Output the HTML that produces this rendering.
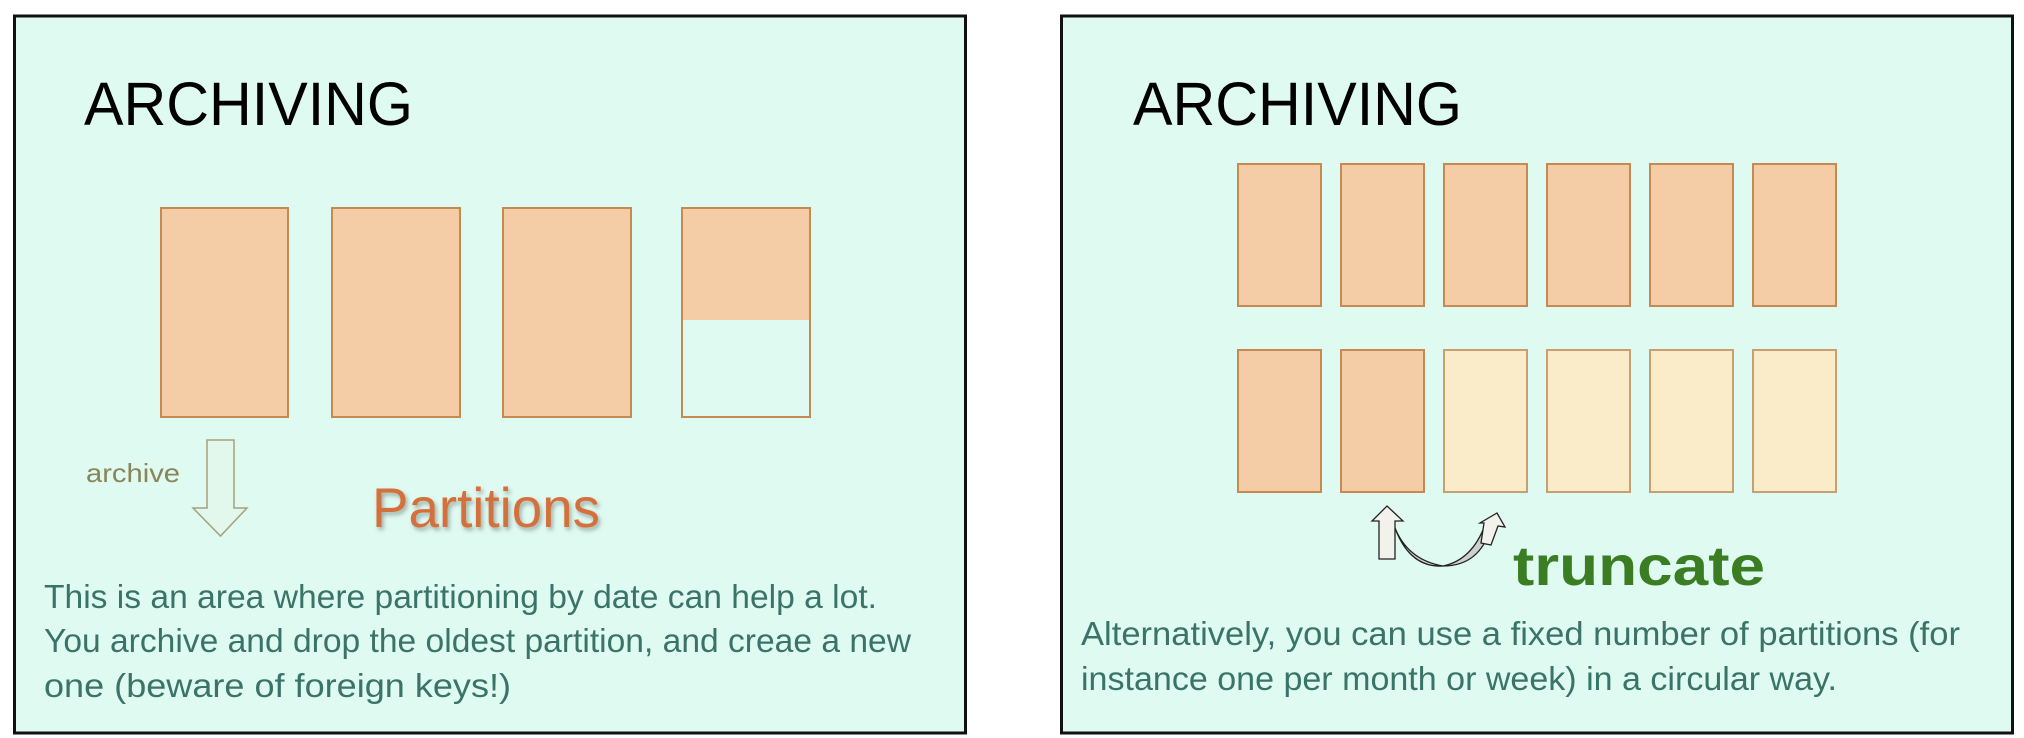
<!DOCTYPE html>
<html><head><meta charset="utf-8"><style>
html,body{margin:0;padding:0;background:#fff;}
svg{display:block;}
text{font-family:"Liberation Sans",sans-serif;}
</style></head><body>
<svg width="2024" height="738" viewBox="0 0 2024 738" xmlns="http://www.w3.org/2000/svg">
<defs>
<filter id="sh" x="-10%" y="-10%" width="130%" height="140%"><feDropShadow dx="2" dy="3" stdDeviation="2" flood-color="#000" flood-opacity="0.3"/></filter>
</defs>
<rect width="2024" height="738" fill="#fff"/>
<!-- left panel -->
<rect x="14.5" y="16" width="951" height="717" fill="#dffaf1" stroke="#111" stroke-width="3"/>
<text x="84" y="125" font-size="61" fill="#000" textLength="329" lengthAdjust="spacingAndGlyphs">ARCHIVING</text>
<g fill="#f4cca6" stroke="#c48a52" stroke-width="2">
<rect x="161" y="208" width="127" height="209"/>
<rect x="332" y="208" width="128" height="209"/>
<rect x="503" y="208" width="128" height="209"/>
<rect x="682" y="208" width="128" height="112" stroke="none"/>
<rect x="682" y="208" width="128" height="209" fill="none"/>
</g>
<polygon points="207,440 234,440 234,508 247,508 220.5,536 193,508 207,508" fill="#e2f8ec" stroke="#a8a07a" stroke-width="1.5"/>
<text x="86" y="482" font-size="26" fill="#8a8558" textLength="94" lengthAdjust="spacingAndGlyphs">archive</text>
<text x="372" y="527" font-size="56" fill="#d4703a" filter="url(#sh)" textLength="228" lengthAdjust="spacingAndGlyphs">Partitions</text>
<g font-size="33" fill="#3a7468">
<text x="44" y="608" textLength="833" lengthAdjust="spacingAndGlyphs">This is an area where partitioning by date can help a lot.</text>
<text x="44" y="652" textLength="867" lengthAdjust="spacingAndGlyphs">You archive and drop the oldest partition, and creae a new</text>
<text x="44" y="697" textLength="467" lengthAdjust="spacingAndGlyphs">one (beware of foreign keys!)</text>
</g>
<!-- right panel -->
<rect x="1061.5" y="16" width="951" height="717" fill="#dffaf1" stroke="#111" stroke-width="3"/>
<text x="1133" y="125" font-size="61" fill="#000" textLength="329" lengthAdjust="spacingAndGlyphs">ARCHIVING</text>
<g fill="#f4cca6" stroke="#c48a52" stroke-width="2">
<rect x="1238" y="164" width="83" height="142"/>
<rect x="1341" y="164" width="83" height="142"/>
<rect x="1444" y="164" width="83" height="142"/>
<rect x="1547" y="164" width="83" height="142"/>
<rect x="1650" y="164" width="83" height="142"/>
<rect x="1753" y="164" width="83" height="142"/>
<rect x="1238" y="350" width="83" height="142"/>
<rect x="1341" y="350" width="83" height="142"/>
</g>
<g fill="#faecc8" stroke="#c8a070" stroke-width="2">
<rect x="1444" y="350" width="83" height="142"/>
<rect x="1547" y="350" width="83" height="142"/>
<rect x="1650" y="350" width="83" height="142"/>
<rect x="1753" y="350" width="83" height="142"/>
</g>
<path d="M1395,528 Q1410,568 1443,566 Q1480,566 1491,527 L1485,525 Q1472,560 1443,566 Q1408,560 1395,528 Z" fill="#cfcfcf" stroke="#222" stroke-width="1.3"/>
<polygon points="1379,559 1395,559 1395,521 1403,521 1387,506 1372,521 1379,521" fill="#f3f1ec" stroke="#222" stroke-width="1.3"/>
<polygon points="1484,523 1480,523 1497,513 1505,527 1498,526 1491,545 1481,543" fill="#f3f1ec" stroke="#222" stroke-width="1.3"/>
<text x="1513" y="585" font-size="56" font-weight="bold" fill="#3a7d22" textLength="252" lengthAdjust="spacingAndGlyphs">truncate</text>
<g font-size="33" fill="#3a7468">
<text x="1081" y="645" textLength="879" lengthAdjust="spacingAndGlyphs">Alternatively, you can use a fixed number of partitions (for</text>
<text x="1081" y="690" textLength="756" lengthAdjust="spacingAndGlyphs">instance one per month or week) in a circular way.</text>
</g>
</svg>
</body></html>
